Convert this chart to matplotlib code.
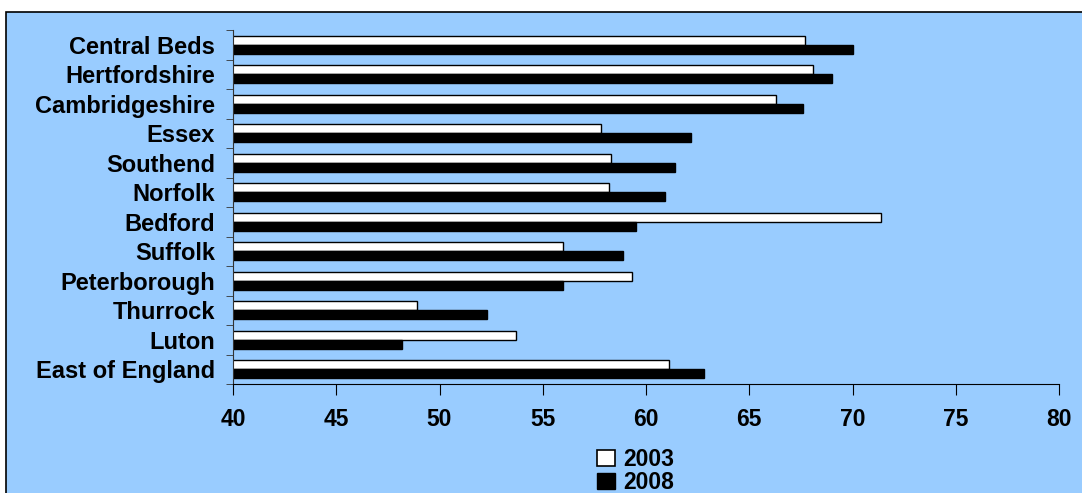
import numpy as np
import matplotlib.pyplot as plt
from matplotlib.patches import Rectangle, Patch

# donnees
regions = ["Central Beds", "Hertfordshire", "Cambridgeshire", "Essex", "Southend",
           "Norfolk", "Bedford", "Suffolk", "Peterborough", "Thurrock", "Luton",
           "East of England"]
val_2003 = [67.7, 68.1, 66.3, 57.8, 58.3, 58.2, 71.4, 56.0, 59.3, 48.9, 53.7, 61.1]
val_2008 = [70.0, 69.0, 67.6, 62.2, 61.4, 60.9, 59.5, 58.9, 56.0, 52.3, 48.2, 62.8]
xticks = [40, 45, 50, 55, 60, 65, 70, 75, 80]

bleu = "#99CCFF"
police = ["Liberation Sans", "DejaVu Sans"]
plt.rcParams['font.family'] = police

fig = plt.figure(figsize=(10.82, 4.93), dpi=100)
fig.patch.set_facecolor("white")
# cadre bleu du graphique
fig.patches.append(Rectangle((6/1082, -0.01), 1.0, (493-12)/493 + 0.01,
                             transform=fig.transFigure, facecolor=bleu,
                             edgecolor="black", linewidth=1.2, zorder=-5))

ax = fig.add_axes([233/1082, 1-384/493, (1059-233)/1082, (384-30)/493])
ax.set_facecolor(bleu)

n = len(regions)
y = np.arange(n)
h = 0.31
ax.barh(y - h/2, val_2003, height=h, color="white", edgecolor="black",
        linewidth=1.0, label="2003")
ax.barh(y + h/2, val_2008, height=h, color="black", edgecolor="black",
        linewidth=1.0, label="2008")

ax.set_xlim(40, 80)
ax.set_ylim(n - 0.5, -0.5)
ax.set_xticks(xticks)
ax.set_xticklabels([str(t) for t in xticks], fontsize=16.5, fontweight="bold")
ax.set_yticks(y)
ax.set_yticklabels(regions, fontsize=17, fontweight="bold")
ax.set_yticks(np.arange(n + 1) - 0.5, minor=True)
ax.tick_params(axis="y", which="major", length=0, pad=13)
ax.tick_params(axis="y", which="minor", length=5, direction="out", color="#333333")
ax.tick_params(axis="x", which="major", length=8, direction="out", pad=9)

for s in ["top", "right"]:
    ax.spines[s].set_visible(False)
ax.spines["left"].set_color("#333333")
ax.spines["bottom"].set_color("black")

handles = [Patch(facecolor="white", edgecolor="black", linewidth=1.2),
           Patch(facecolor="black", edgecolor="black")]
leg = fig.legend(handles, ["2003", "2008"], loc="center",
                 bbox_to_anchor=(636/1082, 1-471/493), frameon=False,
                 prop={"family": police, "weight": "bold", "size": 16.5},
                 handlelength=0.75, handleheight=0.75, handletextpad=0.4,
                 labelspacing=0.0, borderpad=0.1)

fig.savefig("out.png", dpi=100)
